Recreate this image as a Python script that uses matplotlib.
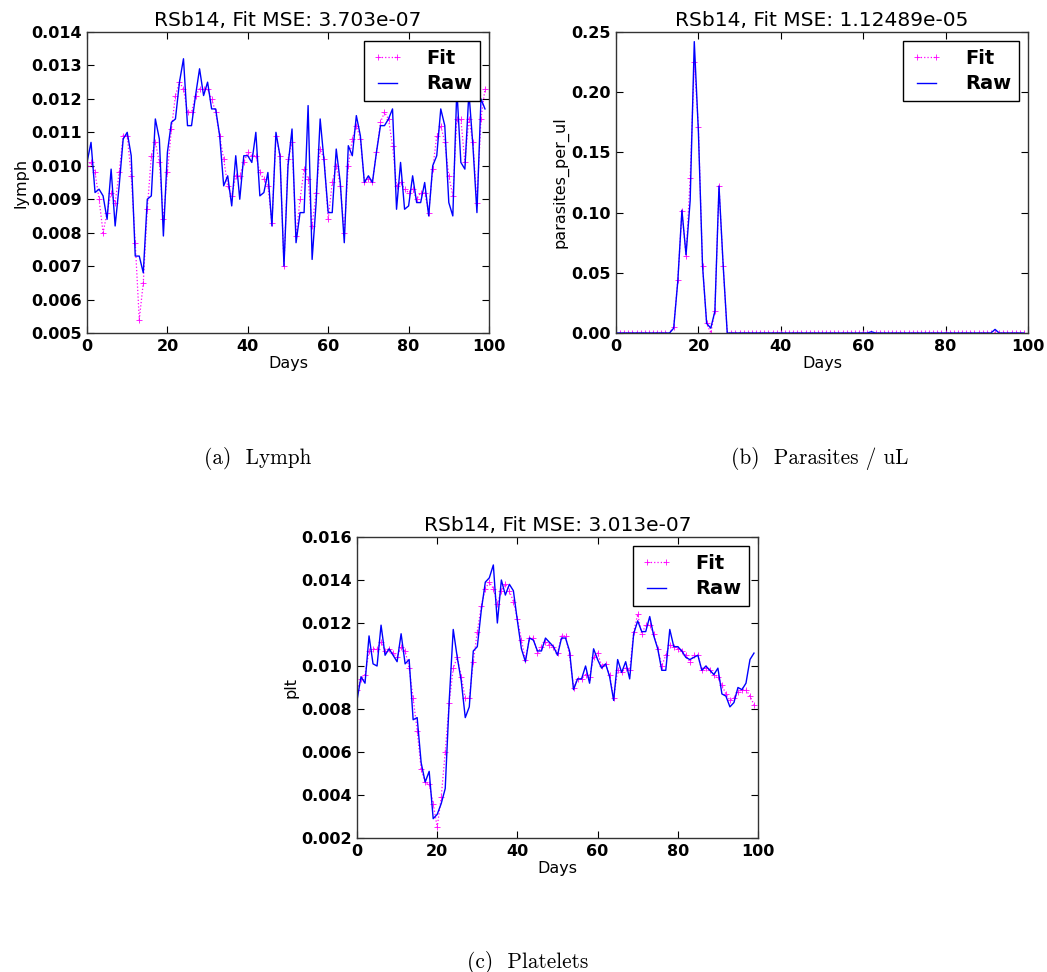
import numpy as np
import matplotlib
matplotlib.use("Agg")
import matplotlib.pyplot as plt

days = np.arange(100)

# lymph counts (x 1e-3)
lymph_raw = [10.1, 10.7, 9.2, 9.3, 9.1, 8.4, 9.9, 8.2, 9.4, 10.8,
             11.0, 10.3, 7.3, 7.3, 6.8, 9.0, 9.1, 11.4, 10.8, 7.9,
             10.4, 11.3, 11.4, 12.5, 13.2, 11.2, 11.2, 12.1, 12.9, 12.1,
             12.5, 11.7, 11.7, 10.9, 9.4, 9.7, 8.8, 10.3, 9.0, 10.3,
             10.3, 10.1, 11.0, 9.1, 9.2, 9.8, 8.2, 11.0, 10.3, 7.0,
             10.0, 11.1, 7.7, 8.6, 8.6, 11.8, 7.2, 8.9, 11.4, 10.1,
             8.6, 8.6, 10.5, 9.5, 7.7, 10.6, 10.3, 11.5, 10.9, 9.5,
             9.7, 9.5, 10.4, 11.2, 11.2, 11.4, 11.7, 8.7, 10.1, 8.7,
             8.8, 9.7, 8.9, 8.9, 9.5, 8.5, 10.0, 10.3, 11.7, 11.2,
             8.9, 8.5, 12.3, 10.1, 9.9, 12.2, 10.6, 8.6, 12.0, 11.7]
lymph_fit = [10.0, 10.1, 9.8, 9.0, 8.0, 8.6, 9.2, 8.9, 9.8, 10.9,
             10.9, 9.7, 7.7, 5.4, 6.5, 8.7, 10.3, 10.7, 10.1, 8.4,
             9.8, 11.1, 12.1, 12.5, 12.3, 11.6, 11.6, 12.1, 12.3, 12.3,
             12.3, 12.0, 11.6, 10.9, 10.2, 9.4, 9.1, 9.7, 9.7, 10.1,
             10.4, 10.3, 10.3, 9.8, 9.6, 9.4, 8.3, 10.9, 10.3, 7.0,
             10.2, 10.7, 7.9, 9.0, 9.9, 9.6, 8.2, 9.2, 10.5, 10.2,
             8.4, 9.5, 10.0, 9.4, 8.0, 10.0, 10.8, 11.2, 10.8, 9.5,
             9.6, 9.5, 10.4, 11.3, 11.6, 11.4, 10.6, 9.4, 9.5, 9.3,
             9.2, 9.3, 9.0, 9.2, 9.2, 8.6, 9.9, 10.9, 11.2, 10.7,
             9.7, 9.1, 11.4, 11.4, 10.1, 11.4, 10.7, 8.9, 11.4, 12.3]

# parasites per uL, non-zero days only
par_days = [14, 15, 16, 17, 18, 19, 20, 21, 22, 23, 24, 25, 26, 62, 92]
par_raw_nz = [0.004, 0.043, 0.102, 0.065, 0.110, 0.242, 0.167, 0.056,
              0.008, 0.004, 0.018, 0.122, 0.057, 0.001, 0.003]
par_fit_nz = [0.005, 0.044, 0.101, 0.064, 0.129, 0.225, 0.171, 0.056,
              0.008, 0.000, 0.018, 0.122, 0.056, 0.000, 0.000]

# platelets (x 1e-3)
plt_raw = [8.4, 9.5, 9.2, 11.4, 10.1, 10.0, 11.9, 10.5, 10.8, 10.5,
           10.2, 11.5, 10.1, 10.3, 7.5, 7.6, 5.5, 4.6, 5.1, 2.9,
           3.1, 3.6, 4.3, 8.4, 11.7, 10.4, 9.3, 7.6, 8.1, 10.7,
           10.9, 12.6, 13.9, 14.1, 14.7, 12.0, 14.0, 13.3, 13.8, 13.5,
           12.1, 10.8, 10.2, 11.3, 11.2, 10.7, 10.7, 11.3, 11.1, 10.9,
           10.5, 11.3, 11.3, 10.7, 8.9, 9.4, 9.4, 10.0, 9.2, 10.8,
           10.3, 9.9, 10.1, 9.5, 8.4, 10.3, 9.7, 10.2, 9.4, 11.5,
           12.1, 11.6, 11.6, 12.3, 11.4, 10.8, 9.8, 9.8, 11.7, 10.9,
           10.9, 10.7, 10.4, 10.3, 10.4, 10.5, 9.8, 10.0, 9.8, 9.6,
           9.9, 8.7, 8.6, 8.1, 8.3, 9.0, 8.9, 9.2, 10.3, 10.6]
plt_fit = [8.9, 9.4, 9.6, 10.7, 10.8, 10.8, 11.1, 10.7, 10.8, 10.6,
           10.4, 10.9, 10.7, 9.9, 8.5, 7.0, 5.2, 4.6, 4.5, 3.6,
           2.5, 3.9, 6.0, 8.3, 9.9, 10.4, 9.5, 8.5, 8.5, 10.2,
           11.6, 12.8, 13.6, 13.9, 13.6, 12.9, 13.5, 13.8, 13.5, 13.0,
           12.2, 11.2, 10.3, 11.3, 11.3, 10.6, 10.9, 11.1, 11.0, 10.9,
           10.6, 11.4, 11.4, 10.5, 9.0, 9.4, 9.4, 9.6, 9.5, 10.4,
           10.6, 10.0, 10.1, 9.6, 8.5, 9.8, 9.7, 9.9, 9.8, 11.6,
           12.4, 11.5, 11.9, 11.9, 11.5, 10.8, 10.0, 10.5, 11.0, 10.9,
           10.8, 10.7, 10.5, 10.2, 10.5, 10.5, 9.8, 9.9, 9.8, 9.6,
           9.5, 9.1, 8.7, 8.4, 8.5, 8.8, 8.9, 8.9, 8.6, 8.2]

titles = ["RSb14, Fit MSE: 3.703e-07",
          "RSb14, Fit MSE: 1.12489e-05",
          "RSb14, Fit MSE: 3.013e-07"]
ylabels = ["lymph", "parasites_per_ul", "plt"]
captions = ["(a)  Lymph", "(b)  Parasites / uL", "(c)  Platelets"]

par_raw = np.zeros(100)
par_fit = np.zeros(100)
par_raw[par_days] = par_raw_nz
par_fit[par_days] = par_fit_nz

W, H = 1047, 972
fig = plt.figure(figsize=(W / 100, H / 100), dpi=100, facecolor="white")


def px_axes(l, t, r, b):
    return fig.add_axes([l / W, 1 - b / H, (r - l) / W, (b - t) / H])


def draw(ax, fit, raw, title, ylabel, ylim, yticks, yfmt):
    ax.plot(days, fit, color="#ff00ff", linestyle=":", marker="+",
            markersize=5, markeredgewidth=0.6, linewidth=0.9, label="Fit")
    ax.plot(days, raw, color="#0000ff", linestyle="-", linewidth=1.0,
            label="Raw")
    ax.set_xlim(0, 100)
    ax.set_ylim(*ylim)
    ax.set_xticks([0, 20, 40, 60, 80, 100])
    ax.set_yticks(yticks)
    ax.set_yticklabels([yfmt % v for v in yticks])
    ax.tick_params(direction="in", top=True, right=True, length=5,
                   width=0.8, labelsize=11.5, pad=4)
    for lab in ax.get_xticklabels() + ax.get_yticklabels():
        lab.set_fontweight("bold")
    for sp in ax.spines.values():
        sp.set_linewidth(1.0)
        sp.set_color("#333333")
    ax.set_title(title, fontsize=14.5, pad=4)
    ax.set_xlabel("Days", fontsize=11.5, labelpad=2)
    ax.set_ylabel(ylabel, fontsize=11.5, labelpad=2)
    leg = ax.legend(loc="upper right", numpoints=2, fancybox=False,
                    framealpha=1, edgecolor="black", handlelength=1.6,
                    handletextpad=1.2, borderpad=0.4, labelspacing=0.35,
                    borderaxespad=0.45,
                    prop={"weight": "bold", "size": 14})
    leg.get_frame().set_linewidth(1.0)


ax1 = px_axes(87, 32, 489, 333)
draw(ax1, np.array(lymph_fit) / 1000, np.array(lymph_raw) / 1000,
     titles[0], ylabels[0], (0.005, 0.014),
     np.arange(0.005, 0.01401, 0.001), "%.3f")

ax2 = px_axes(616, 32, 1028, 333)
draw(ax2, par_fit, par_raw, titles[1], ylabels[1], (0, 0.25),
     np.arange(0, 0.2501, 0.05), "%.2f")

ax3 = px_axes(357, 537, 758, 838)
draw(ax3, np.array(plt_fit) / 1000, np.array(plt_raw) / 1000,
     titles[2], ylabels[2], (0.002, 0.016),
     np.arange(0.002, 0.01601, 0.002), "%.3f")

cap_kw = dict(fontsize=15.3, family="cmr10", ha="center", va="center")
fig.text(258 / W, 1 - 458 / H, captions[0], **cap_kw)
fig.text(820 / W, 1 - 458 / H, captions[1], **cap_kw)
fig.text(528 / W, 1 - 962 / H, captions[2], **cap_kw)

fig.savefig("out.png", dpi=100, facecolor="white")
